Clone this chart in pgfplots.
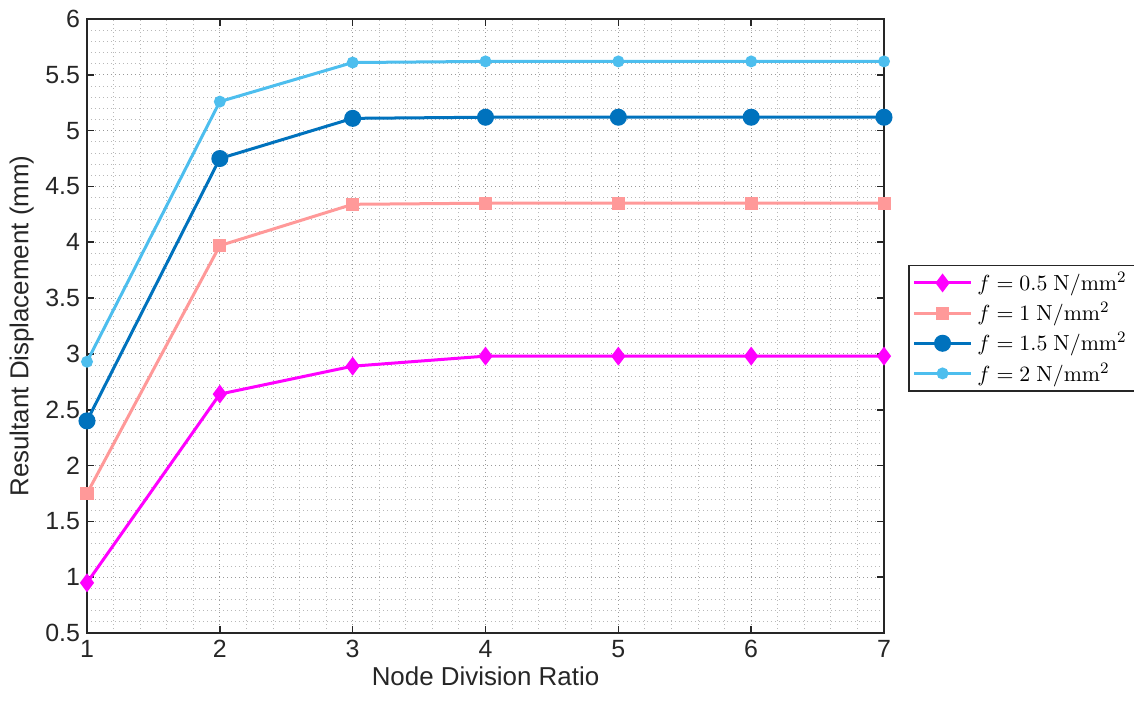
\documentclass[border=0pt]{standalone}
\usepackage[no-math]{fontspec}
\setmainfont{Liberation Sans}
\usepackage{pgfplots}
\pgfplotsset{compat=1.18}
\definecolor{cMag}{RGB}{255,0,255}
\definecolor{cPink}{RGB}{255,153,153}
\definecolor{cDark}{RGB}{0,114,189}
\definecolor{cLight}{RGB}{77,190,238}
\definecolor{axc}{RGB}{38,38,38}
\begin{document}
\begin{tikzpicture}
\useasboundingbox (-43.5bp,-34.5bp) rectangle (523.5bp,316.5bp);
\begin{axis}[
  scale only axis,
  width=398.5bp, height=307bp,
  xmin=1, xmax=7, ymin=0.5, ymax=6,
  xtick={1,2,3,4,5,6,7},
  ytick={0.5,1,1.5,2,2.5,3,3.5,4,4.5,5,5.5,6},
  yticklabels={0.5,1,1.5,2,2.5,3,3.5,4,4.5,5,5.5,6},
  minor x tick num=4, minor y tick num=4,
  grid=both,
  major grid style={dash pattern=on 0.6bp off 1.4bp, color=black!40, line width=0.55bp},
  minor grid style={dash pattern=on 0.5bp off 1.5bp, color=black!28, line width=0.45bp},
  axis line style={color=axc, line width=1bp},
  major tick length=3.5bp, minor tick length=0pt,
  every tick/.style={color=axc, line width=0.8bp},
  tick label style={font=\fontsize{12.5}{14}\selectfont, color=axc},
  /pgf/number format/assume math mode=true,
  label style={font=\fontsize{13}{15}\selectfont, color=axc},
  xlabel={Node Division Ratio},
  ylabel={Resultant Displacement (mm)},
  xlabel style={yshift=2.5bp},
  ylabel style={yshift=-1bp},
  legend cell align=left,
  legend style={at={(1.03,0.6)}, anchor=north west, draw=axc, line width=0.8bp,
    font=\fontsize{11}{13}\selectfont, row sep=0.5bp, inner xsep=2bp, inner ysep=1.5bp,
    nodes={inner xsep=2.5bp}},
  legend image code/.code={\draw[mark repeat=2,mark phase=2] plot coordinates {(0cm,0cm)(0.5cm,0cm)(1.0cm,0cm)};},
]
\addplot[color=cMag, line width=1.5bp, mark=diamond*, mark size=3.5bp, mark options={solid, fill=cMag}]
  coordinates {(1,0.95)(2,2.64)(3,2.89)(4,2.98)(5,2.98)(6,2.98)(7,2.98)};
\addlegendentry{$f = 0.5\ \mathrm{N/mm^2}$}
\addplot[color=cPink, line width=1.5bp, mark=square*, mark size=2.5bp, mark options={solid, fill=cPink}]
  coordinates {(1,1.75)(2,3.97)(3,4.34)(4,4.35)(5,4.35)(6,4.35)(7,4.35)};
\addlegendentry{$f = 1\ \mathrm{N/mm^2}$}
\addplot[color=cDark, line width=1.5bp, mark=*, mark size=3.5bp, mark options={solid, fill=cDark}]
  coordinates {(1,2.40)(2,4.75)(3,5.11)(4,5.12)(5,5.12)(6,5.12)(7,5.12)};
\addlegendentry{$f = 1.5\ \mathrm{N/mm^2}$}
\addplot[color=cLight, line width=1.5bp, mark=*, mark size=2.2bp, mark options={solid, fill=cLight}]
  coordinates {(1,2.93)(2,5.26)(3,5.61)(4,5.62)(5,5.62)(6,5.62)(7,5.62)};
\addlegendentry{$f = 2\ \mathrm{N/mm^2}$}
\end{axis}
\end{tikzpicture}
\end{document}
